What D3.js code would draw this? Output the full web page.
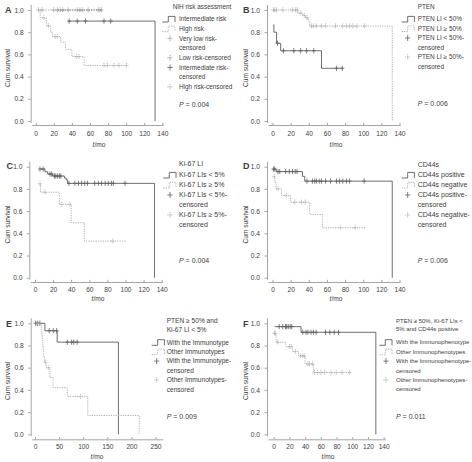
<!DOCTYPE html>
<html><head><meta charset="utf-8">
<script src="https://cdn.jsdelivr.net/npm/d3@7"></script>
<style>
body{margin:0;background:#fff}
svg{display:block}
text{font-family:"Liberation Sans",Arial,sans-serif;fill:#3c3c3c}
</style>
</head><body><svg id="c" width="472" height="462"></svg>
<script>
// ---------------- DATA ----------------
const yTicks = [0, 0.2, 0.4, 0.6, 0.8, 1.0];
const xTicks140 = [0, 20, 40, 60, 80, 100, 120, 140];
const xTicks250 = [0, 50, 100, 150, 200, 250];

// Panel A: NIH risk assessment  (steps = [time, survival])
const aVeryLowSteps = [[3, 1.0]];            const aVeryLowEnd = 69;
const aVeryLowCens  = [3, 7, 20, 27, 36, 46, 52, 58, 69];
const aLowSteps     = [[24, 1.0]];           const aLowEnd = 73;
const aLowCens      = [24, 30, 49, 71, 73];
const aInterSteps   = [[36, 0.9], [132, 0]]; const aInterEnd = 132;
const aInterCens    = [37, 46, 55, 75.5, 83];
const aHighSteps    = [[4.5, 1.0], [5, 0.929], [12, 0.857], [16.5, 0.80], [18.5, 0.76], [27.5, 0.71], [33, 0.645], [40, 0.58], [53.5, 0.50]];
const aHighEnd      = 101;
const aHighCens     = [9, 14, 21.5, 24, 45, 48, 75.5, 79, 86.5, 92, 100.5];

// Panel B: PTEN
const bLowSteps  = [[1, 0.867], [1.5, 0.80], [4.5, 0.70], [9, 0.633], [54, 0.475]]; const bLowEnd = 77;
const bLowCens   = [5.5, 12, 23.5, 31, 37.5, 45.5, 70.5, 77];
const bHighSteps = [[1, 1.0], [28, 0.97], [33.5, 0.95], [36.5, 0.93], [39, 0.90], [41, 0.855], [132, 0]]; const bHighEnd = 132;
const bHighCens  = [1, 2.5, 4.5, 11.5, 22, 25.5, 27.5, 31, 35, 38, 43, 45, 48.5, 54, 58.5, 69.5, 77.5, 81.5, 85, 88.5, 93, 101.5];

// Panel C: Ki-67 LI
const cLowSteps  = [[5.5, 0.979], [11, 0.955], [14, 0.934], [19.5, 0.916], [32.5, 0.898], [34.5, 0.88], [36, 0.85], [132, 0]]; const cLowEnd = 132;
const cLowCens   = [5.5, 9, 16.5, 18.5, 21.5, 23, 25, 27, 28.5, 37.5, 44, 48, 51.5, 55, 58, 66, 70, 73.5, 77.5, 81, 84.5, 86.5, 99.5];
const cHighSteps = [[5.5, 0.846], [6, 0.77], [27, 0.66], [40, 0.495], [54.5, 0.33]]; const cHighEnd = 101;
const cHighCens  = [5.5, 11, 29.5, 38.5, 86];

// Panel D: CD44s
const dPosSteps = [[1, 0.978], [4, 0.956], [33, 0.913], [35.5, 0.87], [132, 0]]; const dPosEnd = 132;
const dPosCens  = [1, 2.5, 6, 8, 14.5, 18.5, 22, 25, 27, 38, 44, 46.5, 48.5, 51.5, 54, 58.5, 64, 70.5, 74, 77.5, 81.5, 85, 101];
const dNegSteps = [[1, 0.91], [2.5, 0.86], [4, 0.80], [10, 0.74], [20, 0.68], [41, 0.57], [55, 0.45]]; const dNegEnd = 103;
const dNegCens  = [2, 6, 15, 24.5, 32, 36, 75, 91];

// Panel E: PTEN >= 50% and Ki-67 LI < 5%
const eWithSteps  = [[1.4, 1.0], [20.5, 0.933], [46, 0.83], [173, 0]]; const eWithEnd = 173;
const eWithCens   = [1.4, 5, 10, 29.5, 38, 45, 67, 76, 80.5, 87.5];
const eOtherSteps = [[5, 1.0], [13, 0.95], [14, 0.90], [15, 0.85], [16, 0.80], [17, 0.75], [18, 0.70], [19.5, 0.65], [23, 0.60], [31, 0.51], [37.5, 0.42], [67, 0.34], [109.5, 0.17], [216, 0]];
const eOtherEnd   = 216;
const eOtherCens  = [6, 10, 22, 27.5, 94.5];

// Panel F: PTEN >= 50%, Ki-67 LIs < 5% and CD44s positive
const fWithSteps  = [[1, 0.97], [34.8, 0.919], [130, 0]]; const fWithEnd = 130;
const fWithCens   = [7, 11.5, 15, 16.5, 18.5, 21, 23, 37, 41, 43.5, 47.5, 50.5, 54, 66, 71.5, 77, 82.5];
const fOtherSteps = [[1, 0.91], [3, 0.83], [15.5, 0.79], [24, 0.745], [31.5, 0.706], [40, 0.634], [50.5, 0.556]]; const fOtherEnd = 98.5;
const fOtherCens  = [1, 2, 5, 20, 22, 27.5, 34, 37, 39, 43.5, 45.5, 49.5, 52, 56, 60, 64.5, 73, 79.5, 87, 96.5];

// Legend texts
const aTitle = ["NIH risk assessment"];
const aLegend = [["Intermediate risk"], ["High risk"], ["Very low risk-", "censored"], ["Low risk-censored"], ["Intermediate risk-", "censored"], ["High risk-censored"]];
const bTitle = ["PTEN"];
const bLegend = [["PTEN LI < 50%"], ["PTEN LI \u2265 50%"], ["PTEN LI < 50%-", "censored"], ["PTEN LI \u2265 50%-", "censored"]];
const cTitle = ["Ki-67 LI"];
const cLegend = [["Ki-67 LIs < 5%"], ["Ki-67 LIs \u2265 5%"], ["Ki-67 LIs < 5%-", "censored"], ["Ki-67 LIs \u2265 5%-", "censored"]];
const dTitle = ["CD44s"];
const dLegend = [["CD44s positive"], ["CD44s negative"], ["CD44s positive-", "censored"], ["CD44s negative-", "censored"]];
const eTitle = ["PTEN \u2265 50% and", "Ki-67 LI < 5%"];
const eLegend = [["With the Immunotype"], ["Other Immunotypes"], ["With the Immunotype-", "censored"], ["Other Immunotypes-", "censored"]];
const fTitle = ["PTEN \u2265 50%, Ki-67 LIs <", "5% and CD44s positive"];
const fLegend = [["With the Immunophenotype"], ["Other Immunophenotypes"], ["With the Immunophenotype-", "censored"], ["Other Immunophenotypes-", "censored"]];

const pValues = ["0.004", "0.006", "0.004", "0.006", "0.009", "0.011"];
const letters = ["A", "B", "C", "D", "E", "F"];

// ---------------- STYLE / LAYOUT ----------------
const DARK = "#5e5e5e", LIGHT = "#ababab", MID = "#8a8a8a", AXIS = "#8e8e8e";
const DASH = "1.3,1.1";

const layouts = [
  {x0:35.7, x1:162.3, ax:30.7, y1:10, y0:121, xy:125, xe:163.5, lp:6.2, tx:99, ty:145, cx:7.5, cy:68, lx:5, ly:13.3,
   leg:{tx:179, ttx:172.7, sx:162.3, cx:170, ty:7, tlh:8.6, r0:19, rh:9.7, py:105, fs:6.4}},
  {x0:272.5, x1:399.5, ax:267, y1:10, y0:121, xy:125, xe:400.7, lp:6.2, tx:336, ty:145, cx:246, cy:68, lx:243, ly:13.3,
   leg:{tx:417.7, ttx:417.7, sx:401.7, cx:407.7, ty:7, tlh:8.6, r0:19, rh:9.5, py:104, fs:6.4}},
  {x0:35, x1:161.7, ax:29.3, y1:166.7, y0:277.7, xy:282, xe:163, lp:5.2, tx:98, ty:299, cx:7.5, cy:224.5, lx:6.5, ly:168.5,
   leg:{tx:179, ttx:179, sx:163.3, cx:170, ty:164, tlh:8.6, r0:175, rh:10, py:261, fs:7}},
  {x0:272.5, x1:399.5, ax:267, y1:166.7, y0:277.7, xy:282, xe:400.7, lp:5.2, tx:336, ty:299, cx:245.5, cy:224.5, lx:243, ly:168.5,
   leg:{tx:417.7, ttx:417.7, sx:401.7, cx:407.7, ty:165, tlh:8.6, r0:175, rh:10, py:261, fs:7}},
  {x0:35, x1:155.5, ax:30.7, y1:323.3, y0:434.3, xy:439.3, xe:163.3, lp:5.2, tx:97, ty:456.5, cx:7.5, cy:381, lx:6, ly:326.7,
   leg:{tx:166.7, ttx:166.7, sx:151.7, cx:156.7, ty:320.7, tlh:8.6, r0:342.3, rh:9.4, py:416.7, fs:6.6}},
  {x0:273.7, x1:383.7, ax:267, y1:323.3, y0:434.3, xy:439.3, xe:386, lp:5.2, tx:328, ty:456.5, cx:245.5, cy:381, lx:243, ly:326.7,
   leg:{tx:396, ttx:396, sx:379.3, cx:386, ty:320.7, tlh:8.6, r0:342.3, rh:9.4, py:416.7, fs:6.0}}
];

const solid = (steps, end, cens) => ({steps, end, cens, color: DARK, dash: null});
const dotted = (steps, end, cens, color) => ({steps, end, cens, color: color || LIGHT, dash: DASH});

const panels = [
  {xMax:140, xTicks:xTicks140, title:aTitle, legend:aLegend,
   series:[dotted(aVeryLowSteps, aVeryLowEnd, aVeryLowCens, "#9a9a9a"), dotted(aLowSteps, aLowEnd, aLowCens, "#8a8a8a"),
           solid(aInterSteps, aInterEnd, aInterCens), dotted(aHighSteps, aHighEnd, aHighCens)],
   legSyms:[{t:"line", c:DARK}, {t:"line", c:LIGHT, d:DASH}, {t:"cens", c:LIGHT}, {t:"cens", c:MID, d:DASH}, {t:"cens", c:DARK}, {t:"cens", c:LIGHT, d:DASH}]},
  {xMax:140, xTicks:xTicks140, title:bTitle, legend:bLegend,
   series:[solid(bLowSteps, bLowEnd, bLowCens), dotted(bHighSteps, bHighEnd, bHighCens)]},
  {xMax:140, xTicks:xTicks140, title:cTitle, legend:cLegend,
   series:[solid(cLowSteps, cLowEnd, cLowCens), dotted(cHighSteps, cHighEnd, cHighCens)]},
  {xMax:140, xTicks:xTicks140, title:dTitle, legend:dLegend,
   series:[solid(dPosSteps, dPosEnd, dPosCens), dotted(dNegSteps, dNegEnd, dNegCens)]},
  {xMax:250, xTicks:xTicks250, title:eTitle, legend:eLegend,
   series:[solid(eWithSteps, eWithEnd, eWithCens), dotted(eOtherSteps, eOtherEnd, eOtherCens)]},
  {xMax:140, xTicks:xTicks140, title:fTitle, legend:fLegend,
   series:[solid(fWithSteps, fWithEnd, fWithCens), dotted(fOtherSteps, fOtherEnd, fOtherCens)]}
];
const defaultSyms = [{t:"line", c:DARK}, {t:"line", c:LIGHT, d:DASH}, {t:"cens", c:DARK}, {t:"cens", c:LIGHT, d:DASH}];

// ---------------- DRAW ----------------
const svg = d3.select("#c");
const FONT = "Liberation Sans, Arial, sans-serif";

function survAt(steps, t) {
  let s = steps[0][1];
  for (const [ti, si] of steps) { if (ti <= t) s = si; }
  return s;
}

panels.forEach((P, i) => {
  const L = layouts[i];
  const g = svg.append("g");
  const x = d3.scaleLinear().domain([0, P.xMax]).range([L.x0, L.x1]);
  const y = d3.scaleLinear().domain([0, 1]).range([L.y0, L.y1]);

  // axes
  const ya = g.append("g").attr("transform", `translate(${L.ax},0)`)
    .call(d3.axisLeft(y).tickValues(yTicks).tickFormat(d3.format(".1f")).tickSize(2.5).tickPadding(4.5));
  ya.select(".domain").attr("d", `M0.5,${L.y1 - 5}V${L.y0 + 2}`);
  const xa = g.append("g").attr("transform", `translate(0,${L.xy})`)
    .call(d3.axisBottom(x).tickValues(P.xTicks).tickFormat(d3.format("d")).tickSize(-2.2).tickPadding(L.lp));
  xa.select(".domain").attr("d", `M${L.ax + 1.5},0.5H${L.xe}`);
  [ya, xa].forEach(a => {
    a.attr("font-family", FONT).attr("font-size", 6.6);
    a.selectAll("path,line").attr("stroke", AXIS).attr("stroke-width", 0.8);
    a.selectAll("text").attr("fill", "#444");
  });

  // axis titles
  g.append("text").attr("x", L.tx).attr("y", L.ty).attr("text-anchor", "middle").attr("dy", "0.35em")
    .attr("font-size", 6.6).html('<tspan font-style="italic">t</tspan>/mo');
  g.append("text").attr("transform", `translate(${L.cx},${L.cy}) rotate(-90)`).attr("text-anchor", "middle")
    .attr("dy", "0.35em").attr("font-size", 6.6).text("Cum survival");
  g.append("text").attr("x", L.lx).attr("y", L.ly).attr("font-size", 9).attr("font-weight", "bold")
    .attr("fill", "#222").text(letters[i]);

  // curves
  const line = d3.line().x(d => x(d[0])).y(d => y(d[1])).curve(d3.curveStepAfter);
  P.series.forEach(S => {
    const pts = S.steps.slice();
    const last = pts[pts.length - 1];
    if (S.end > last[0]) pts.push([S.end, last[1]]);
    g.append("path").attr("d", line(pts)).attr("fill", "none").attr("stroke", S.color)
      .attr("stroke-width", 0.9).attr("stroke-dasharray", S.dash);
    g.selectAll(null).data(S.cens).enter().append("path")
      .attr("transform", t => `translate(${x(t)},${y(survAt(S.steps, t))})`)
      .attr("d", "M-2,0H2M0,-2.6V2.6").attr("stroke", S.color).attr("stroke-width", 0.8)
      .attr("fill", "none").attr("stroke-dasharray", S.dash ? "1.2,0.6" : null);
  });

  // legend
  const G = L.leg;
  P.title.forEach((t, k) => {
    g.append("text").attr("x", G.ttx).attr("y", G.ty + k * G.tlh).attr("dy", "0.35em")
      .attr("font-size", G.fs).text(t);
  });
  const syms = P.legSyms || defaultSyms;
  let row = 0;
  P.legend.forEach((lines, k) => {
    const yc = G.r0 + row * G.rh;
    const s = syms[k];
    if (s.t === "line") {
      g.append("path").attr("d", `M${G.sx},${yc + 3}H${G.sx + 6}V${yc - 2.6}H${G.sx + 12.7}V${yc + 3}`)
        .attr("fill", "none").attr("stroke", s.c).attr("stroke-width", 0.9).attr("stroke-dasharray", s.d || null);
    } else {
      g.append("path").attr("d", `M${G.cx - 2.6},${yc}H${G.cx + 2.6}M${G.cx},${yc - 3}V${yc + 3}`)
        .attr("fill", "none").attr("stroke", s.c).attr("stroke-width", 0.8)
        .attr("stroke-dasharray", s.d ? "1.2,0.6" : null);
    }
    lines.forEach(t => {
      g.append("text").attr("x", G.tx).attr("y", G.r0 + row * G.rh).attr("dy", "0.35em")
        .attr("font-size", G.fs).text(t);
      row++;
    });
  });
  g.append("text").attr("x", G.tx).attr("y", G.py).attr("dy", "0.35em").attr("font-size", 7)
    .html('<tspan font-style="italic">P</tspan> = ' + pValues[i]);
});
</script></body></html>
